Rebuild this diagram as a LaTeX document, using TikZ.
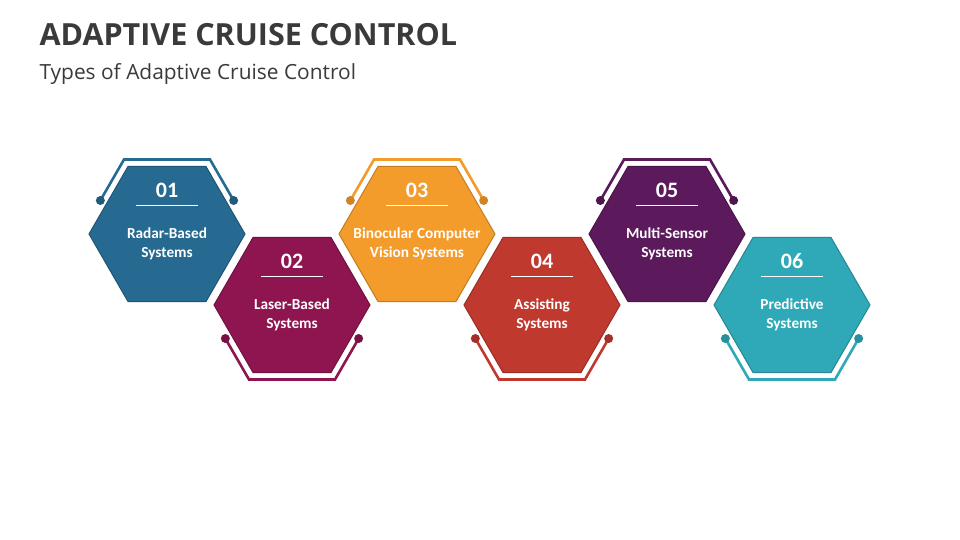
\documentclass[tikz,border=0pt]{standalone}
\usepackage{fontspec}
\setmainfont{Open Sans}
\newfontfamily\hexfont{Carlito}
\usetikzlibrary{shapes.geometric,calc}
\definecolor{cone}{HTML}{276A91}
\definecolor{ctwo}{HTML}{8E1550}
\definecolor{cthree}{HTML}{F39C2C}
\definecolor{cfour}{HTML}{C0392F}
\definecolor{cfive}{HTML}{5C1A5C}
\definecolor{csix}{HTML}{2FA9B7}
\definecolor{titlegray}{HTML}{3A3A3A}
\begin{document}
\begin{tikzpicture}[x=1pt,y=-1pt]
		\tikzstyle{hexagon}=[regular polygon,regular polygon sides=6,minimum size=156pt,inner sep=0,line width=1pt]
		\tikzstyle{bracket}=[line width=2.6pt,line join=miter]
		\tikzstyle{num}=[font=\hexfont\bfseries\fontsize{22}{24}\selectfont,text=white]
		\tikzstyle{label}=[font=\hexfont\bfseries\fontsize{15.3}{19}\selectfont,text=white,align=center]
		\useasboundingbox (0,0) rectangle (960,540);

		\node[anchor=base west,font=\bfseries\fontsize{30.5}{34}\selectfont,text=titlegray] (title) at (36,46) {ADAPTIVE CRUISE CONTROL};
		\node[anchor=base west,font=\fontsize{20.9}{24}\selectfont,text=titlegray] (subtitle) at (36,80) {Types of Adaptive Cruise Control};

		\foreach \i/\cx/\cy/\col/\a/\b/\txt in {
			01/167/234/cone/120/60/{Radar-Based\\Systems},
			02/292/305/ctwo/240/300/{Laser-Based\\Systems},
			03/417/234/cthree/120/60/{Binocular Computer\\Vision Systems},
			04/542/305/cfour/240/300/{Assisting\\Systems},
			05/667/234/cfive/120/60/{Multi-Sensor\\Systems},
			06/792/305/csix/240/300/{Predictive\\Systems}}{
			\node[hexagon,fill=\col,draw=\col!80!black] (hex\i) at (\cx,\cy) {};
			% outline bracket with end dots
			\coordinate (left\i) at ($(hex\i.center)+(180:86pt)$);
			\coordinate (right\i) at ($(hex\i.center)+(0:86pt)$);
			\coordinate (ca\i) at ($(hex\i.center)+(\a:86pt)$);
			\coordinate (cb\i) at ($(hex\i.center)+(\b:86pt)$);
			\coordinate (start\i) at ($(left\i)!0.45!(ca\i)$);
			\coordinate (end\i) at ($(right\i)!0.45!(cb\i)$);
			\draw[bracket,\col] (start\i) -- (ca\i) -- (cb\i) -- (end\i);
			\fill[\col!85!black] (start\i) circle (4.5) (end\i) circle (4.5);
			\node[num] (num\i) at ($(hex\i)+(0,-44)$) {\i};
			\draw[white,line width=0.8pt] ($(hex\i)+(-31,-29)$) -- ($(hex\i)+(31,-29)$);
			\node[label] (label\i) at ($(hex\i)+(0,10)$) {\txt};
		}
	\end{tikzpicture}
\end{document}
